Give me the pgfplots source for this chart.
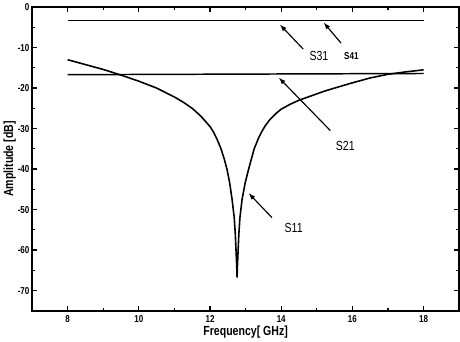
\documentclass[border=0pt]{standalone}
\usepackage{pgfplots}
\pgfplotsset{compat=1.18}
\usepackage{fontspec}
\setmainfont{Liberation Sans}[FakeStretch=0.8]
\begin{document}
\begin{tikzpicture}
\begin{axis}[
  scale only axis,
  width=405pt, height=288pt,
  xmin=7, xmax=19, ymin=-75, ymax=0,
  xtick={8,10,12,14,16,18},
  ytick={-70,-60,-50,-40,-30,-20,-10,0},
  minor x tick num=1, minor y tick num=1,
  tick align=inside,
  major tick length=5pt, minor tick length=3pt,
  axis line style={line width=1.5pt},
  every tick/.style={line width=1.2pt, black},
  /pgf/number format/assume math mode=true,
  tick label style={font=\fontsize{9.5}{10}\selectfont\bfseries},
  xticklabel style={yshift=-1pt},
  yticklabel style={xshift=1pt},
  xlabel={Frequency[ GHz]},
  ylabel={Amplitude [dB]},
  label style={font=\fontsize{12.5}{14}\selectfont\bfseries},
  xlabel style={yshift=4pt},
  ylabel style={yshift=-5pt},
  clip=true,
]
\addplot[black, line width=1.7pt] coordinates {(8,-3.3) (18,-3.3)};
\addplot[black, line width=1.4pt] coordinates {(8,-16.7) (18,-16.4)};
\addplot[black, line width=1.5pt] coordinates {
(8,-13.0) (8.5,-14.2) (9,-15.4) (9.5,-16.8) (10,-18.3) (10.5,-20.0)
(11,-22.2) (11.25,-23.5) (11.5,-25.0) (11.75,-27.0) (12,-29.5) (12.1,-30.9) (12.2,-32.7) (12.3,-34.8) (12.4,-37.5) (12.48,-40.2)
(12.55,-43.3) (12.62,-47.5) (12.68,-52) (12.71,-56) (12.73,-60) (12.75,-64) (12.76,-66.8) (12.77,-64) (12.79,-60) (12.81,-56) (12.84,-52)
(12.9,-47.5) (12.99,-43.3) (13.1,-39.5) (13.24,-35.0) (13.35,-32.6) (13.45,-30.8) (13.56,-29.2) (13.68,-27.8) (13.85,-26.3) (14,-25.2) (14.25,-24.0)
(14.5,-23.0) (14.85,-21.9) (15.2,-20.8) (15.5,-20.0) (16,-18.7) (16.5,-17.5) (17,-16.6)
(17.5,-16.0) (18,-15.5)};
\draw[-latex, line width=1.1pt] (axis cs:14.62,-10.4) -- (axis cs:13.97,-4.4);
\draw[-latex, line width=1.1pt] (axis cs:15.68,-8.9) -- (axis cs:15.2,-3.9);
\draw[-latex, line width=1.1pt] (axis cs:15.38,-30.5) -- (axis cs:13.94,-17.5);
\draw[-latex, line width=1.1pt] (axis cs:13.74,-52) -- (axis cs:13.09,-46);
\node[font=\fontsize{12.5}{13}\selectfont] at (axis cs:15.06,-12.0) {S31};
\node[font=\fontsize{9.5}{10}\selectfont\bfseries] at (axis cs:15.97,-12.0) {S41};
\node[font=\fontsize{12.5}{13}\selectfont] at (axis cs:15.8,-34.2) {S21};
\node[font=\fontsize{12.5}{13}\selectfont] at (axis cs:14.35,-54.6) {S11};
\end{axis}
\end{tikzpicture}
\end{document}
